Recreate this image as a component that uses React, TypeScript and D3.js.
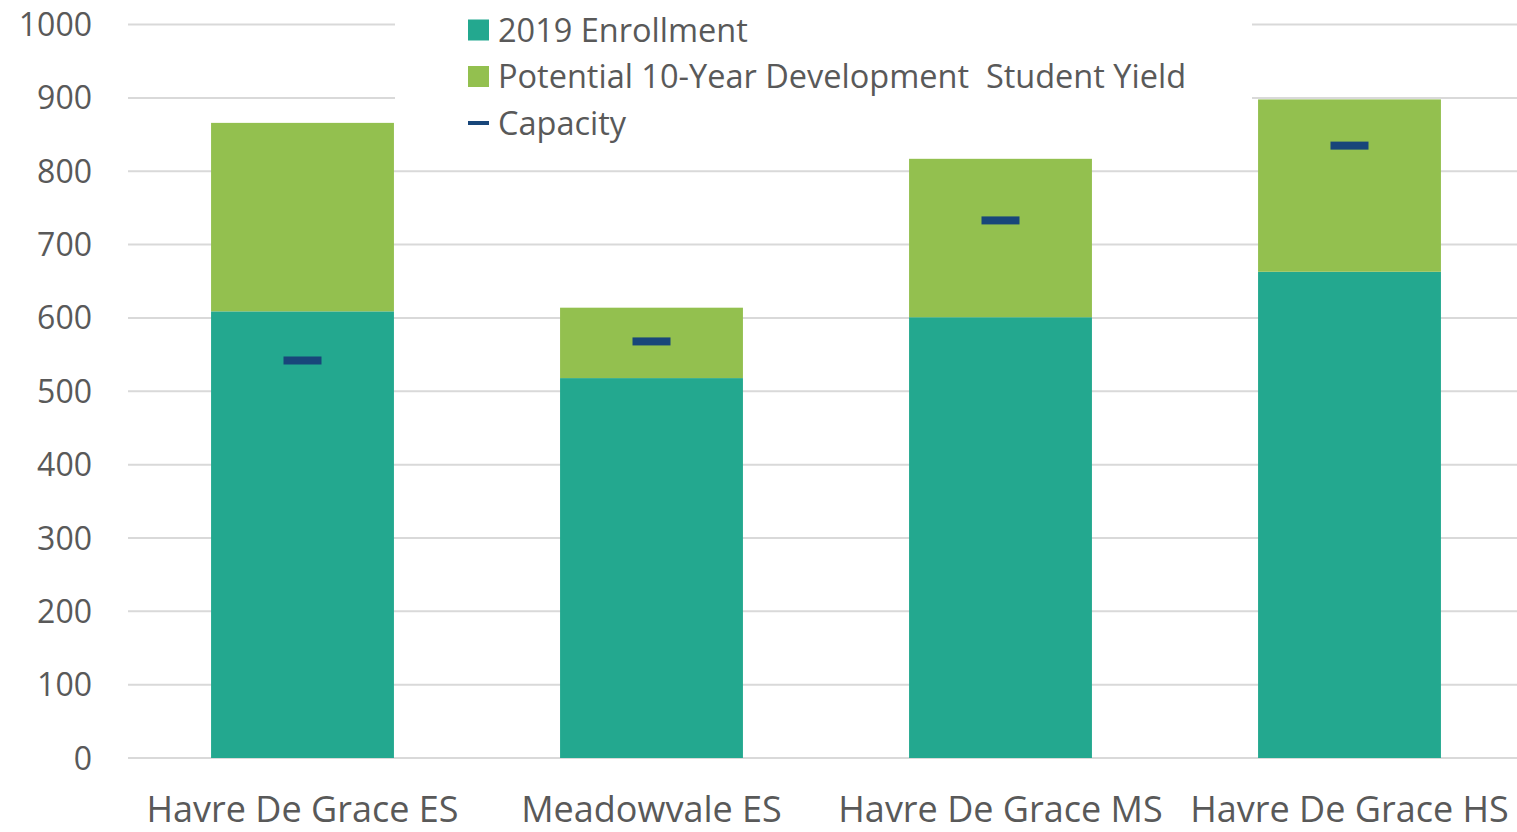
import React from "react";
import * as d3 from "d3";

const categories = ["Havre De Grace ES", "Meadowvale ES", "Havre De Grace MS", "Havre De Grace HS"];
const enrollment = [609, 518, 601, 663];
const studentYield = [257, 96, 216, 235];
const capacity = [542, 568, 733, 835];
const yTicks = [0, 100, 200, 300, 400, 500, 600, 700, 800, 900, 1000];
const legendLabels = ["2019 Enrollment", "Potential 10-Year Development  Student Yield", "Capacity"];

const W = 1517;
const H = 832;
const FONT = "'Open Sans', sans-serif";

export default function App() {
  const left = 128;
  const right = 1524;
  const top = 24.6;
  const bottom = 758;
  const x = d3.scaleBand<string>().domain(categories).range([left, right]).paddingInner(0.476).paddingOuter(0.238);
  const y = d3.scaleLinear().domain([0, 1000]).range([bottom, top]);
  const green1 = "#23A88F";
  const green2 = "#93C04F";
  const navy = "#18467A";
  const textColor = "#595959";

  return (
    <svg width={W} height={H} style={{ position: "absolute", left: 0, top: 0 }}>
      <rect x={0} y={0} width={W} height={H} fill="#fff" />
      {yTicks.map((t) => (
        <g key={t}>
          <line x1={left} x2={W} y1={y(t)} y2={y(t)} stroke="#D9D9D9" strokeWidth={2} />
          <text x={92} y={y(t)} dy="0.36em" textAnchor="end" fontFamily={FONT} fontSize={32} fill={textColor}>
            {t}
          </text>
        </g>
      ))}
      {categories.map((c, i) => {
        const bx = x(c)!;
        const bw = x.bandwidth();
        return (
          <g key={c}>
            <rect x={bx} y={y(enrollment[i])} width={bw} height={y(0) - y(enrollment[i])} fill={green1} />
            <rect
              x={bx}
              y={y(enrollment[i] + studentYield[i])}
              width={bw}
              height={y(enrollment[i]) - y(enrollment[i] + studentYield[i])}
              fill={green2}
            />
            <rect x={bx + bw / 2 - 19} y={y(capacity[i]) - 4} width={38} height={8} fill={navy} />
            <text x={bx + bw / 2} y={822} textAnchor="middle" fontFamily={FONT} fontSize={36} fill={textColor}>
              {c}
            </text>
          </g>
        );
      })}
      <rect x={395} y={4} width={857} height={136} fill="#fff" />
      {legendLabels.map((l, i) => {
        const cy = 30 + i * 46.5;
        return (
          <g key={l}>
            {i < 2 ? (
              <rect x={468} y={cy - 10.5} width={21} height={21} fill={i === 0 ? green1 : green2} />
            ) : (
              <rect x={468} y={cy - 2} width={21} height={4} fill={navy} />
            )}
            <text
              x={498}
              y={cy}
              dy="0.36em"
              fontFamily={FONT}
              fontSize={32.5}
              fill={textColor}
              style={{ whiteSpace: "pre" }}
            >
              {l}
            </text>
          </g>
        );
      })}
    </svg>
  );
}
